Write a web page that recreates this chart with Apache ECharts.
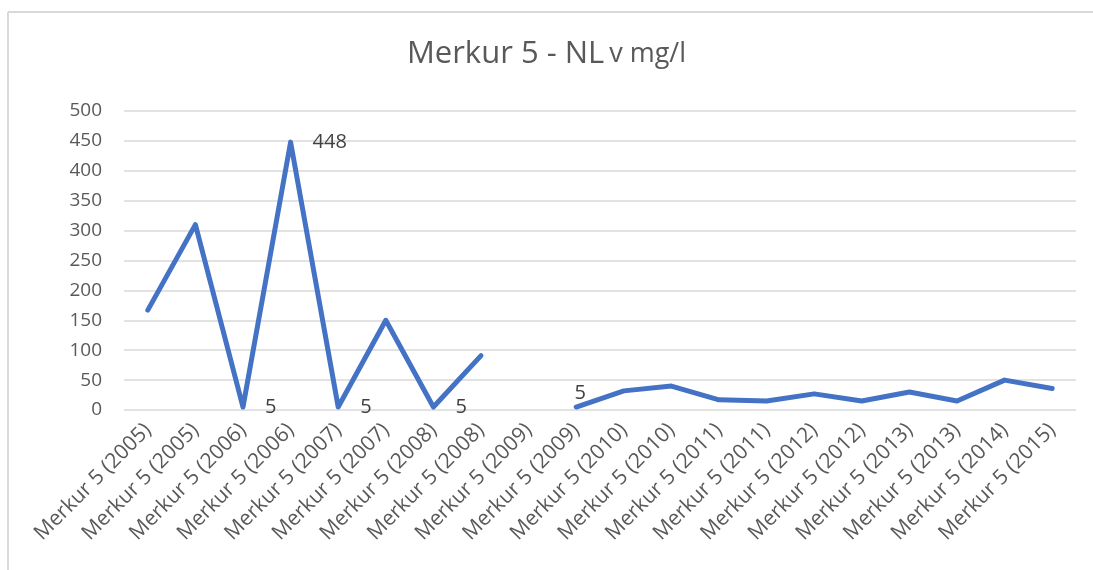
<!DOCTYPE html>
<html>
<head>
<meta charset="utf-8">
<script src="https://cdn.jsdelivr.net/npm/echarts@6/dist/echarts.min.js"></script>
<style>
  html, body { margin: 0; padding: 0; background: #fff; }
  #chart { width: 1093px; height: 570px; }
</style>
</head>
<body>
<div id="chart"></div>
<script>
const categories = [
  'Merkur 5 (2005)', 'Merkur 5 (2005)', 'Merkur 5 (2006)', 'Merkur 5 (2006)',
  'Merkur 5 (2007)', 'Merkur 5 (2007)', 'Merkur 5 (2008)', 'Merkur 5 (2008)',
  'Merkur 5 (2009)', 'Merkur 5 (2009)', 'Merkur 5 (2010)', 'Merkur 5 (2010)',
  'Merkur 5 (2011)', 'Merkur 5 (2011)', 'Merkur 5 (2012)', 'Merkur 5 (2012)',
  'Merkur 5 (2013)', 'Merkur 5 (2013)', 'Merkur 5 (2014)', 'Merkur 5 (2015)'
]
const values = [167, 310, 5, 448, 5, 150, 5, 91, null, 5, 32, 40, 17, 15, 27, 15, 30, 15, 50, 36]
// which points carry a data label, and where
const labelRight = [2, 3, 4, 6]
const labelTop = [9]

const textColor = '#595959'
const font = 'Open Sans'

const chart = echarts.init(document.getElementById('chart'))

const seriesData = values.map((v, i) => {
  if (labelRight.includes(i)) {
    return { value: v, label: { show: true, position: 'right', distance: 21 } }
  }
  if (labelTop.includes(i)) {
    return { value: v, label: { show: true, position: 'top', distance: 3, offset: [4, 0] } }
  }
  return v
})

chart.setOption({
  animation: false,
  title: {
    text: '{big|Merkur 5 - NL} {small|v mg/l}',
    left: 'center',
    top: 34,
    textStyle: {
      rich: {
        big: { fontFamily: font, fontSize: 31, fontWeight: 'normal', color: textColor },
        small: { fontFamily: font, fontSize: 27, fontWeight: 'normal', color: textColor }
      }
    }
  },
  graphic: [
    { type: 'line', shape: { x1: 8, y1: 12, x2: 1093, y2: 12 }, style: { stroke: '#d9d9d9', lineWidth: 2 } },
    { type: 'line', shape: { x1: 8, y1: 12, x2: 8, y2: 570 }, style: { stroke: '#d9d9d9', lineWidth: 2 } }
  ],
  grid: { left: 124, right: 17, top: 111, bottom: 160 },
  xAxis: {
    type: 'category',
    data: categories,
    boundaryGap: true,
    axisLine: { show: false },
    axisTick: { show: false },
    axisLabel: {
      rotate: 45,
      interval: 0,
      margin: 17,
      fontFamily: font,
      fontSize: 21,
      color: textColor
    }
  },
  yAxis: {
    type: 'value',
    min: 0,
    max: 500,
    interval: 50,
    axisLine: { show: false },
    axisTick: { show: false },
    axisLabel: { fontFamily: font, fontSize: 19, color: textColor, margin: 22 },
    splitLine: { lineStyle: { color: '#d9d9d9', width: 1.5 } }
  },
  series: [{
    type: 'line',
    data: seriesData,
    connectNulls: false,
    symbol: 'circle',
    symbolSize: 2,
    showSymbol: true,
    itemStyle: { color: 'rgba(0,0,0,0)', borderWidth: 0 },
    lineStyle: { color: '#4472C4', width: 5, join: 'round', cap: 'round' },
    label: { fontFamily: font, fontSize: 20, color: '#404040' }
  }]
})
</script>
</body>
</html>
